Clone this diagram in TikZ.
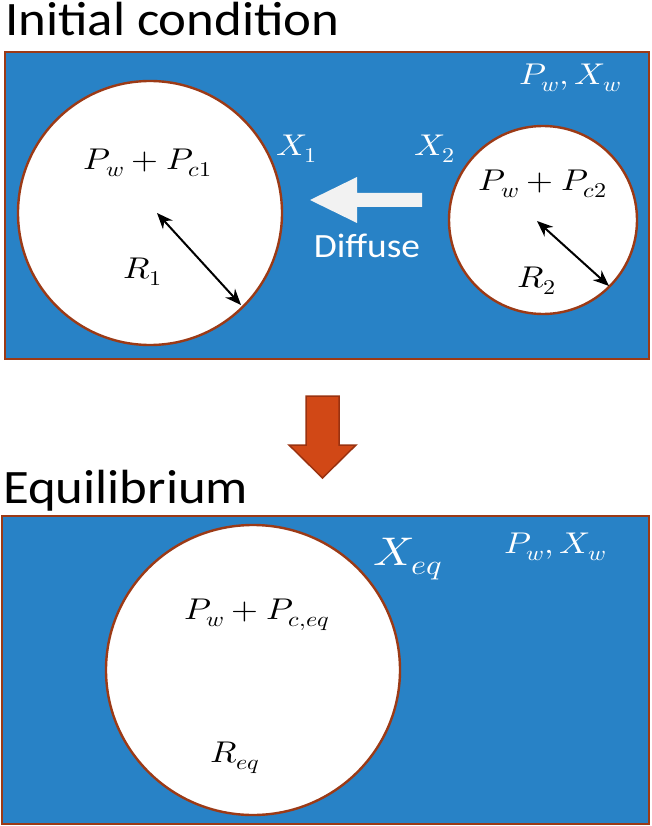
\documentclass[tikz,border=0pt]{standalone}
\usepackage{fontspec}
\usepackage{unicode-math}
\setmainfont{Carlito}
\usetikzlibrary{arrows.meta}

\definecolor{water}{HTML}{2882C6}
\definecolor{rim}{HTML}{9C3A16}
\definecolor{flow}{HTML}{D14816}
\definecolor{flowrim}{HTML}{9A3210}

\newcommand{\fsz}[1]{\fontsize{#1}{1.2#1}\selectfont}
\newcommand{\wm}[1]{\scalebox{1.15}[1]{$#1$}}
\newcommand{\wt}[2][1.1]{\scalebox{#1}[1]{#2}}

\begin{document}
\begin{tikzpicture}[x=1pt,y=-1pt,line cap=round,
    tank/.style={fill=water,draw=rim,line width=2.2pt},
    bubble/.style={fill=white,draw=rim,line width=2.4pt},
    lbl/.style={inner sep=0pt,font=\fsz{30pt}},
    wlbl/.style={lbl,text=white},
    head/.style={inner sep=0pt,anchor=base west,font=\fsz{48pt}},
    radius arrow/.style={line width=2pt,
      {Stealth[length=16pt,width=13pt]}-{Stealth[length=16pt,width=13pt]}}]
  \useasboundingbox (0,0) rectangle (651,826);

  % initial condition
  \node[head] (tinit) at (5,36) {\wt{Initial condition}};
  \draw[tank] (5,52) rectangle (649,359);
  \draw[bubble] (150,213) circle [radius=132pt];
  \draw[bubble] (543,220) circle [radius=94pt];

  \node[wlbl] (pw1) at (570,78) {\wm{P_w,X_w}};
  \node[wlbl] (x1) at (297,149) {\wm{X_1}};
  \node[wlbl] (x2) at (435,149) {\wm{X_2}};
  \node[lbl] (pc1) at (148,163) {\wm{P_w+P_{c1}}};
  \node[lbl] (pc2) at (543,184) {\wm{P_w+P_{c2}}};
  \node[lbl] (r1) at (143,272) {\wm{R_1}};
  \node[lbl] (r2) at (537,281) {\wm{R_2}};

  \coordinate (c1) at (157,213);
  \coordinate (e1) at (241,305);
  \coordinate (c2) at (537,221);
  \coordinate (e2) at (609,286);
  \draw[radius arrow] (c1) -- (e1);
  \draw[radius arrow] (c2) -- (e2);

  % diffusion arrow
  \fill[gray!10] (310,200) -- (357,177) -- (357,193) -- (422,193)
    -- (422,207) -- (357,207) -- (357,223) -- cycle;
  \node[text=white,inner sep=0pt,font=\fsz{34pt}] (dif) at (367,246) {\wt{Diffuse}};

  % transition
  \draw[fill=flow,draw=flowrim,line width=1.5pt,line join=miter]
    (306,396) -- (339,396) -- (339,445) -- (356,445) -- (322.5,478)
    -- (289,445) -- (306,445) -- cycle;

  % equilibrium
  \node[head] (teq) at (3,503) {\wt{Equilibrium}};
  \draw[tank] (2,516) rectangle (649,824);
  \draw[bubble] (253,670) ellipse [x radius=147pt,y radius=145pt];

  \node[wlbl,font=\fsz{40pt}] (xeq) at (408,559) {\wm{X_{eq}}};
  \node[wlbl] (pw2) at (555,547) {\wm{P_w,X_w}};
  \node[lbl] (pceq) at (257,615) {\wm{P_w+P_{c,eq}}};
  \node[lbl] (req) at (235,758) {\wm{R_{eq}}};
\end{tikzpicture}
\end{document}
